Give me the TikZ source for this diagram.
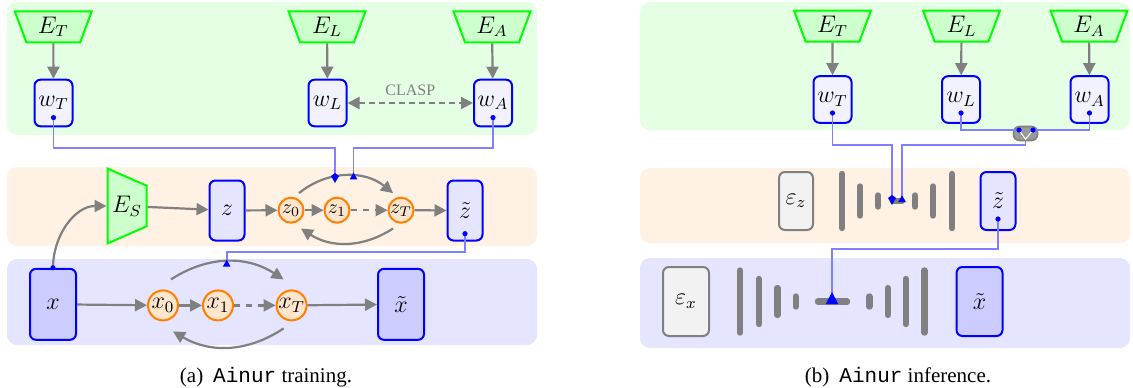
\documentclass[tikz,border=0pt]{standalone}
\usepackage[no-math]{fontspec}
\setmainfont{Liberation Serif}
\setmonofont{Liberation Mono}
\usetikzlibrary{shapes.geometric,arrows.meta}
\tikzset{
  panel/.style={rounded corners=5pt},
  enc/.style={trapezium, trapezium left angle=60, trapezium right angle=60,
    trapezium stretches body, draw=green, fill=green!20, line width=1pt,
    inner sep=0pt, minimum height=15.5pt, minimum width=38.5pt,
    shape border rotate=180, font=\large},
  encs/.style={enc, shape border rotate=270, minimum height=19.5pt, minimum width=37.5pt},
  wbox/.style={draw=blue, fill=blue!5, line width=1pt, rounded corners=3pt,
    inner sep=0pt, minimum width=19pt, minimum height=23.3pt, font=\large},
  zbox/.style={wbox, fill=blue!10, minimum width=17.5pt, minimum height=30pt},
  xbox/.style={wbox, fill=blue!20, minimum width=23pt, minimum height=35.5pt},
  noise/.style={draw=gray, fill=gray!10, line width=1pt, rounded corners=3pt,
    inner sep=0pt, font=\large},
  zst/.style={circle, draw=orange, fill=orange!20, line width=1pt, inner sep=0pt,
    minimum size=12.5pt},
  xst/.style={zst, minimum size=15pt, font=\large},
  flow/.style={draw=gray, line width=1.1pt, -{Triangle[length=6pt,width=6pt]}},
  link/.style={draw=blue!50, line width=0.9pt},
  bar/.style={draw=gray, line width=3.2pt, line cap=round},
  kite/.style={-{Kite[length=5pt,width=4pt,inset=1.5pt,color=blue]}},
  tri/.style={-{Triangle[reversed,length=3.5pt,width=3.5pt,color=blue]}},
  mixer/.style={draw=gray, fill=gray!80, line width=0.8pt, rounded corners=3pt,
    minimum width=12pt, minimum height=7pt, inner sep=0pt}
}

\begin{document}
\begin{tikzpicture}[x=0.5pt, y=-0.5pt]
\useasboundingbox (0,0) rectangle (1133,387);

% (a) training
\fill[panel, green!10] (7,2) rectangle (537,135);
\fill[panel, orange!10] (7,167) rectangle (537,246);
\fill[panel, blue!10] (7,259) rectangle (537,345);

\node[enc] (ET) at (53.3,26.8) {$E_T$};
\node[enc] (EL) at (327,26.8) {$E_L$};
\node[enc] (EA) at (492,26.8) {$E_A$};
\node[wbox] (wT) at (53.5,103) {$w_T$};
\node[wbox] (wL) at (327.5,103) {$w_L$};
\node[wbox] (wA) at (493,103) {$w_A$};
\node[encs] (ES) at (127,206) {$E_S$};
\node[zbox] (z) at (227,210.5) {$z$};
\node[zst] (z0) at (291,210.2) {$z_0$};
\node[zst] (z1) at (337,210.2) {$z_1$};
\node[zst] (zT) at (401,210.2) {$z_T$};
\node[zbox] (zt) at (465,210.5) {$\tilde{z}$};
\node[xbox] (x) at (53,304.3) {$x$};
\node[xst] (x0) at (163,305.4) {$x_0$};
\node[xst] (x1) at (218,305.4) {$x_1$};
\node[xst] (xT) at (291.6,305.4) {$x_T$};
\node[xbox] (xt) at (401,304.3) {$\tilde{x}$};

\foreach \e/\w in {ET/wT, EL/wL, EA/wA} \draw[flow] (\e) -- (\w);
\draw[flow, {Triangle[length=6pt,width=6pt]}-{Triangle[length=6pt,width=6pt]},
  dash pattern=on 3pt off 2pt] (wL) -- node[above, font=\footnotesize, text=gray] (clasp) {CLASP} (wA);
\draw[flow] (x.north) to[out=90, in=180] (ES);
\draw[flow] (ES) -- (z);
\draw[flow] (z) -- (z0);
\draw[flow] (z0) -- (z1);
\draw[flow, dashed] (z1) -- (zT);
\draw[flow] (zT) -- (zt);
\draw[flow] ([shift={(4pt,1.8pt)}]z0.north) to[bend left=39] ([shift={(-4pt,1.8pt)}]zT.north);
\draw[flow] ([shift={(-4pt,-2.4pt)}]zT.south) to[bend left=33] ([shift={(5pt,-2.4pt)}]z0.south);
\draw[flow] (x) -- (x0);
\draw[flow] (x0) -- (x1);
\draw[flow, dashed] (x1) -- (xT);
\draw[flow] (xT) -- (xt);
\draw[flow] ([shift={(4pt,5pt)}]x0.north) to[bend left=33] ([shift={(-4pt,5pt)}]xT.north);
\draw[flow] ([shift={(-4pt,-3.5pt)}]xT.south) to[bend left=32] ([shift={(5pt,-5pt)}]x0.south);

\coordinate (dT) at ([yshift=-7.3pt]wT.center);
\coordinate (dA) at ([yshift=-7.3pt]wA.center);
\coordinate (dz) at ([yshift=-11.6pt]zt.center);
\coordinate (ja) at (0,148.3);
\coordinate (jb) at (0,251.7);
\coordinate (kz) at (335,183);
\coordinate (az) at (353.5,179.3);
\coordinate (ax) at (226.7,266.5);
\draw[link, kite] (dT) -- (dT |- ja) -| (kz);
\draw[link, tri] (dA) -- (dA |- ja) -| (az);
\draw[link, tri] (dz) -- (dz |- jb) -| (ax);
\foreach \d in {dT, dA, dz, x.north} \fill[blue] (\d) circle (1.3pt);

% (b) inference
\fill[panel, green!10] (640,2) rectangle (1130,130);
\fill[panel, orange!10] (640,168) rectangle (1130,243);
\fill[panel, blue!10] (640,258) rectangle (1130,348);

\foreach \bx/\bh in {842/27, 860/14.5, 878/5.5, 915/5.5, 933/14.5, 952/27}
  \draw[bar] (\bx,{201-\bh}) -- (\bx,{201+\bh});
\draw[bar] (893,201) -- (902,201);
\foreach \bx/\bh in {740/31, 759/22.5, 777.3/13.4, 795.7/5, 869.3/5, 887.7/13.4, 905.7/22.5, 924.3/31}
  \draw[bar] (\bx,{301.5-\bh}) -- (\bx,{301.5+\bh});
\draw[bar] (818,301.5) -- (847,301.5);

\node[enc] (ET2) at (832.5,26) {$E_T$};
\node[enc] (EL2) at (961.5,26) {$E_L$};
\node[enc] (EA2) at (1089,26) {$E_A$};
\node[wbox] (wT2) at (832.5,99.5) {$w_T$};
\node[wbox] (wL2) at (961,99.5) {$w_L$};
\node[wbox] (wA2) at (1089.5,99.5) {$w_A$};
\node[noise, minimum width=17pt, minimum height=29pt] (ez) at (796,201) {$\varepsilon_z$};
\node[zbox, minimum height=29pt] (zt2) at (998,201) {$\tilde{z}$};
\node[noise, minimum width=23pt, minimum height=34.5pt] (ex) at (686,301.5) {$\varepsilon_x$};
\node[xbox, minimum height=34.5pt] (xt2) at (979.5,301.5) {$\tilde{x}$};
\node[mixer] (mix) at (1025.5,133.5) {};

\foreach \e/\w in {ET2/wT2, EL2/wL2, EA2/wA2} \draw[flow] (\e) -- (\w);

\coordinate (dT2) at ([yshift=-6.75pt]wT2.center);
\coordinate (dL2) at ([yshift=-6.75pt]wL2.center);
\coordinate (dA2) at ([yshift=-6.75pt]wA2.center);
\coordinate (dz2) at ([yshift=-9pt]zt2.center);
\coordinate (pl) at (1019,130);
\coordinate (pr) at (1033,130);
\coordinate (jc) at (0,145);
\coordinate (jd) at (0,249);
\coordinate (kb) at (892,205);
\coordinate (ab) at (902,202);
\coordinate (axb) at (832,304);
\draw[link] (dL2) |- (pl);
\draw[link] (dA2) |- (pr);
\draw[white, line width=0.5pt] (pl) -- ([yshift=1pt]mix.south) -- (pr);
\draw[link, kite] (dT2) -- (dT2 |- jc) -| (kb);
\draw[link, tri] (mix.south) -- (mix.south |- jc) -| (ab);
\draw[link, -{Triangle[reversed,length=6pt,width=6pt,color=blue]}] (dz2) -- (dz2 |- jd) -| (axb);
\foreach \d in {dT2, dL2, dA2, dz2, pl, pr} \fill[blue] (\d) circle (1.3pt);

\node[anchor=base, font=\fontsize{10.5}{12}\selectfont] (capa) at (266,382.5) {(a)\hspace{5pt}\texttt{Ainur} training.};
\node[anchor=base, font=\fontsize{10.5}{12}\selectfont] (capb) at (898,382.5) {(b)\hspace{5pt}\texttt{Ainur} inference.};
\end{tikzpicture}
\end{document}
